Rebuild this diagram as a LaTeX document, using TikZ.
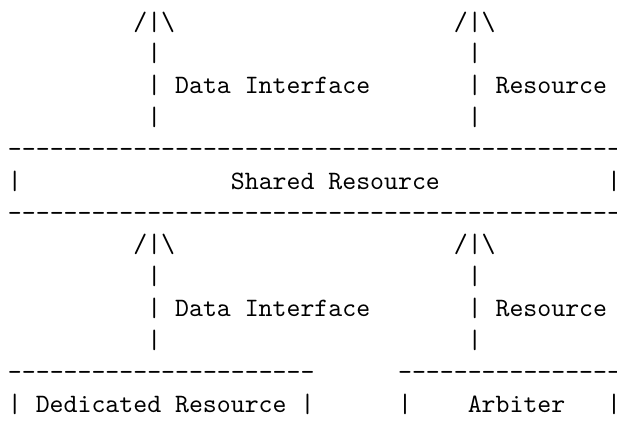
\documentclass[tikz,border=0pt]{standalone}
\ExplSyntaxOn
\NewDocumentCommand\ttdashes{m}{\prg_replicate:nn{#1}{-\kern0pt}}
\ExplSyntaxOff
\begin{document}
\begin{tikzpicture}[x=5.25pt,y=-12pt,
  txt/.style={anchor=base west,inner sep=0pt,outer sep=0pt,font=\ttfamily}]
\useasboundingbox (-0.571,-0.942) rectangle (43.71,12.53);
% upper connectors
\node[txt] (ua1) at (9,0) {/|\textbackslash};
\node[txt] (ua2) at (32,0) {/|\textbackslash};
\node[txt] (ub1) at (10,1) {|};
\node[txt] (ub2) at (33,1) {|};
\node[txt] (uc1) at (10,2) {| Data Interface};
\node[txt] (uc2) at (33,2) {| Resource};
\node[txt] (ud1) at (10,3) {|};
\node[txt] (ud2) at (33,3) {|};
% shared resource box
\node[txt] (stop) at (0,4) {\ttdashes{44}};
\node[txt] (sl) at (0,5) {|};
\node[txt] (slabel) at (16,5) {Shared Resource};
\node[txt] (sr) at (43,5) {|};
\node[txt] (sbot) at (0,6) {\ttdashes{44}};
% lower connectors
\node[txt] (la1) at (9,7) {/|\textbackslash};
\node[txt] (la2) at (32,7) {/|\textbackslash};
\node[txt] (lb1) at (10,8) {|};
\node[txt] (lb2) at (33,8) {|};
\node[txt] (lc1) at (10,9) {| Data Interface};
\node[txt] (lc2) at (33,9) {| Resource};
\node[txt] (ld1) at (10,10) {|};
\node[txt] (ld2) at (33,10) {|};
% bottom boxes
\node[txt] (dtop) at (0,11) {\ttdashes{22}};
\node[txt] (atop) at (28,11) {\ttdashes{16}};
\node[txt] (dlabel) at (0,12) {| Dedicated Resource |};
\node[txt] (al) at (28,12) {|};
\node[txt] (alabel) at (33,12) {Arbiter};
\node[txt] (ar) at (43,12) {|};
\end{tikzpicture}
\end{document}
